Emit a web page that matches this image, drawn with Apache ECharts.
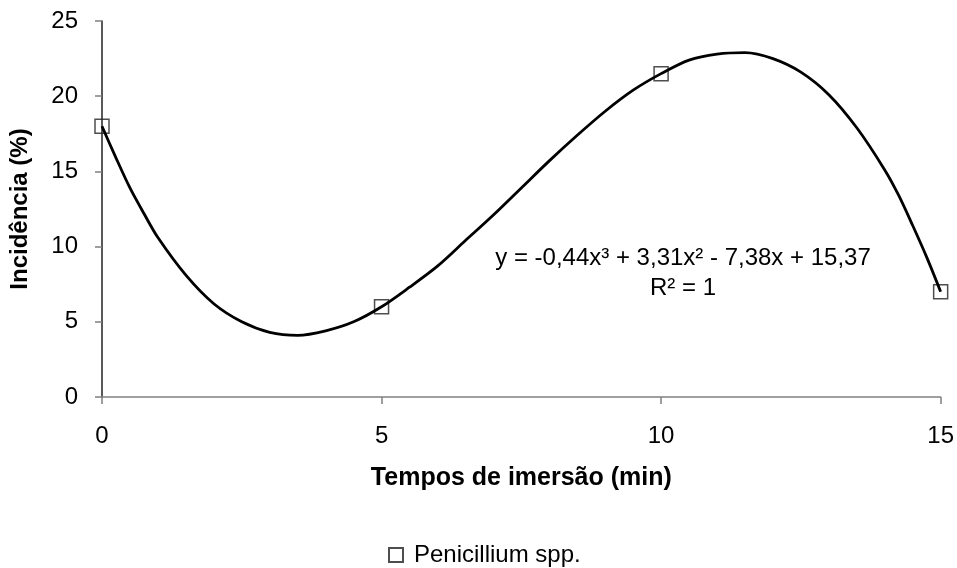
<!DOCTYPE html>
<html>
<head>
<meta charset="utf-8">
<script src="https://cdn.jsdelivr.net/npm/echarts@6/dist/echarts.min.js"></script>
<style>
  html, body { margin: 0; padding: 0; background: #fff; }
  #chart { width: 957px; height: 568px; }
</style>
</head>
<body>
<div id="chart"></div>
<script>
// pontos observados
const tempos = [0, 5, 10, 15];
const incidencia = [18, 6, 21.5, 7];
// linha de tendência
const trendX = [0, 0.25, 0.5, 0.75, 1, 1.5, 2, 2.5, 3, 3.5, 4, 4.5, 5, 5.5, 6, 6.5, 7, 7.5,
  8, 8.5, 9, 9.5, 10, 10.5, 11, 11.5, 12, 12.5, 13, 13.5, 14, 14.25, 14.5, 14.75, 15];
const trendY = [18, 15.9, 13.9, 12.2, 10.6, 8.1, 6.2, 5, 4.3, 4.1, 4.4, 5, 6, 7.3, 8.7, 10.4, 12.1, 13.9,
  15.7, 17.4, 19, 20.4, 21.5, 22.4, 22.8, 22.9, 22.5, 21.6, 20.1, 17.9, 15.1, 13.4, 11.4, 9.3, 7];
const yTicks = [0, 5, 10, 15, 20, 25];
const xTicks = [0, 5, 10, 15];
const equacao = "y = -0,44x³ + 3,31x² - 7,38x + 15,37";
const r2 = "R² = 1";

const chart = echarts.init(document.getElementById("chart"));
const font = "Liberation Sans, Arial, sans-serif";

const option = {
  animation: false,
  textStyle: { fontFamily: font },
  grid: { left: 98, right: 16, top: 21, bottom: 171 },
  legend: {
    data: ["Penicillium spp."],
    top: 543,
    left: 388,
    padding: 0,
    itemWidth: 14,
    itemHeight: 14,
    textStyle: { fontSize: 24, color: "#000", fontFamily: font, padding: [0, 0, 0, 6] },
  },
  xAxis: {
    type: "value",
    min: xTicks[0],
    max: xTicks[xTicks.length - 1],
    interval: 5,
    name: "Tempos de imersão (min)",
    nameLocation: "middle",
    nameGap: 69,
    nameTextStyle: { fontSize: 25, fontWeight: "bold", color: "#000", fontFamily: font },
    axisLine: { lineStyle: { color: "#808080", width: 1.5 } },
    axisTick: { show: true, length: 7, lineStyle: { color: "#808080", width: 1.5 } },
    axisLabel: { fontSize: 24, color: "#000", margin: 27 },
    splitLine: { show: false },
  },
  yAxis: {
    type: "value",
    min: yTicks[0],
    max: yTicks[yTicks.length - 1],
    interval: 5,
    name: "Incidência (%)",
    nameLocation: "middle",
    nameGap: 70,
    nameTextStyle: { fontSize: 24, fontWeight: "bold", color: "#000", fontFamily: font },
    axisLine: { show: true, lineStyle: { color: "#222", width: 1.5 } },
    axisTick: { show: true, length: 7, lineStyle: { color: "#808080", width: 1.5 } },
    axisLabel: { fontSize: 24, color: "#000", margin: 24 },
    splitLine: { show: false },
  },
  series: [
    {
      name: "Penicillium spp.",
      type: "scatter",
      symbol: "rect",
      symbolSize: 14,
      z: 2,
      itemStyle: { color: "rgba(255,255,255,0)", borderColor: "#222", borderWidth: 1.5 },
      data: tempos.map((t, i) => [t, incidencia[i]]),
    },
    {
      name: "tendencia",
      type: "line",
      smooth: 0.3,
      showSymbol: false,
      z: 3,
      lineStyle: { color: "#000", width: 2.8 },
      data: trendX.map((t, i) => [t, trendY[i]]),
    },
  ],
  graphic: [
    {
      type: "text",
      x: 683,
      y: 258,
      style: { text: equacao, fontSize: 24, fill: "#000", fontFamily: font, align: "center", verticalAlign: "middle" },
    },
    {
      type: "text",
      x: 683,
      y: 288,
      style: { text: r2, fontSize: 24, fill: "#000", fontFamily: font, align: "center", verticalAlign: "middle" },
    },
  ],
};
chart.setOption(option);
</script>
</body>
</html>
